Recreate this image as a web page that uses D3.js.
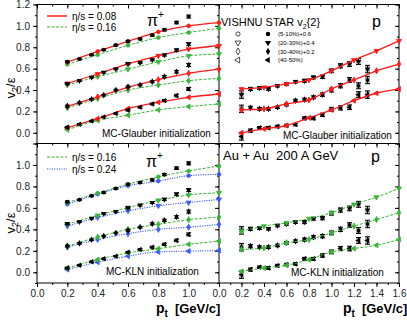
<!DOCTYPE html>
<html>
<head>
<meta charset="utf-8">
<script src="https://cdn.jsdelivr.net/npm/d3@7"></script>
<style>
body { margin: 0; background: #fff; }
text { font-family: Arial, "Liberation Sans", sans-serif; }
</style>
</head>
<body>
<svg id="chart" width="407" height="324"></svg>
<script>
// transverse momentum bins
const ptPi = [0.2, 0.28, 0.36, 0.44, 0.52, 0.6, 0.68, 0.76, 0.84, 0.92, 1.0];
const ptPr = [0.2, 0.28, 0.36, 0.44, 0.52, 0.6, 0.68, 0.76, 0.84, 0.92, 1.0, 1.08, 1.16, 1.24, 1.32];
const ptHydroPi = [0.2, 0.4, 0.6, 0.8, 1.0, 1.2];
const ptHydroPr = [0.2, 0.4, 0.6, 0.8, 1.0, 1.2, 1.4, 1.6];

const centralities = ["(5-10%)+0.6", "(20-30%)+0.4", "(30-40%)+0.2", "(40-50%)"];

// STAR pion v2{2}/eps, MC-Glauber eps (offsets included)
const starPiGlauber = [
  [0.665, 0.69, 0.73, 0.776, 0.82, 0.855, 0.878, 0.913, 0.963, 1.031, 1.087],
  [0.458, 0.487, 0.519, 0.565, 0.597, 0.645, 0.655, 0.683, 0.727, 0.773, 0.829],
  [0.25, 0.28, 0.314, 0.352, 0.4, 0.43, 0.447, 0.478, 0.525, 0.571, 0.634],
  [0.052, 0.079, 0.11, 0.148, 0.18, 0.212, 0.239, 0.27, 0.301, 0.348, 0.41]
];
// STAR pion, MC-KLN eps
const starPiKLN = [
  [0.656, 0.675, 0.712, 0.743, 0.78, 0.82, 0.837, 0.86, 0.91, 0.97, 1.015],
  [0.453, 0.47, 0.503, 0.547, 0.566, 0.6, 0.625, 0.65, 0.68, 0.728, 0.766],
  [0.244, 0.27, 0.303, 0.337, 0.366, 0.39, 0.42, 0.452, 0.484, 0.515, 0.565],
  [0.04, 0.066, 0.097, 0.125, 0.15, 0.187, 0.212, 0.234, 0.26, 0.297, 0.353]
];
const errPi = [0.008, 0.007, 0.007, 0.007, 0.007, 0.008, 0.008, 0.009, 0.01, 0.012, 0.014];

// STAR proton v2{2}/eps (20-30%, 30-40%, 40-50%)
const starPrGlauber = [
  [0.357, 0.41, 0.419, 0.41, 0.44, 0.457, 0.478, 0.487, 0.518, 0.525, 0.58, 0.627, 0.643, 0.667, 0.596],
  [0.224, 0.233, 0.224, 0.224, 0.239, 0.264, 0.301, 0.31, 0.332, 0.357, 0.4, 0.44, 0.494, 0.44, 0.494],
  [-0.034, 0.021, 0.047, 0.047, 0.059, 0.068, 0.077, 0.136, 0.136, 0.168, 0.22, 0.233, 0.239, 0.357, 0.357]
];
const starPrKLN = [
  [0.39, 0.405, 0.411, 0.405, 0.436, 0.45, 0.467, 0.467, 0.5, 0.505, 0.55, 0.58, 0.595, 0.633, 0.58],
  [0.234, 0.243, 0.234, 0.234, 0.25, 0.274, 0.29, 0.305, 0.327, 0.336, 0.367, 0.4, 0.44, 0.389, 0.45],
  [-0.022, 0.025, 0.047, 0.04, 0.062, 0.072, 0.078, 0.125, 0.125, 0.156, 0.19, 0.221, 0.221, 0.296, 0.296]
];
const errPr = [0.035, 0.015, 0.012, 0.012, 0.012, 0.012, 0.012, 0.014, 0.014, 0.016, 0.018, 0.02, 0.022, 0.028, 0.035];

// VISHNU hydro, pions
const hydroPiGl008 = [
  [0.66, 0.761, 0.855, 0.944, 1.0, 1.03],
  [0.462, 0.55, 0.645, 0.72, 0.783, 0.814],
  [0.248, 0.336, 0.425, 0.497, 0.556, 0.596],
  [0.047, 0.132, 0.226, 0.285, 0.332, 0.363]
];
const hydroPiGl016 = [
  [0.64, 0.73, 0.818, 0.891, 0.938, 0.978],
  [0.447, 0.525, 0.594, 0.664, 0.72, 0.736],
  [0.233, 0.32, 0.4, 0.447, 0.487, 0.509],
  [0.028, 0.116, 0.164, 0.214, 0.245, 0.27]
];
const hydroPiKLN016 = [
  [0.65, 0.737, 0.82, 0.89, 0.944, 0.99],
  [0.447, 0.53, 0.603, 0.67, 0.72, 0.741],
  [0.244, 0.328, 0.4, 0.447, 0.49, 0.514],
  [0.04, 0.118, 0.18, 0.22, 0.26, 0.29]
];
const hydroPiKLN024 = [
  [0.634, 0.728, 0.806, 0.85, 0.9, 0.913],
  [0.43, 0.51, 0.572, 0.62, 0.65, 0.679],
  [0.234, 0.306, 0.36, 0.4, 0.42, 0.446],
  [0.025, 0.094, 0.15, 0.19, 0.197, 0.203]
];
// VISHNU hydro, protons
const hydroPrGl008 = [
  [0.41, 0.425, 0.457, 0.494, 0.58, 0.68, 0.767, 0.86],
  [0.214, 0.224, 0.27, 0.307, 0.41, 0.494, 0.58, 0.643],
  [0.0, 0.037, 0.068, 0.14, 0.214, 0.301, 0.37, 0.41]
];
const hydroPrKLN016 = [
  [0.383, 0.43, 0.461, 0.5, 0.555, 0.632, 0.7, 0.782],
  [0.212, 0.227, 0.274, 0.305, 0.367, 0.43, 0.492, 0.555],
  [0.009, 0.04, 0.065, 0.118, 0.19, 0.221, 0.252, 0.305]
];

const xTicks = [0, 0.2, 0.4, 0.6, 0.8, 1.0, 1.2, 1.4, 1.6];
const yTicks = [0, 0.2, 0.4, 0.6, 0.8, 1.0, 1.2];

const RED = "#ff1a1a", GREEN = "#39b539", BLUE = "#3a5cff";

const svg = d3.select("#chart");
const L = 37, M = 219, R = 399, T = 4.5, MID = 143.5, B = 283;

const xPi = d3.scaleLinear().domain([0, 1.2]).range([L, M]);
const xPr = d3.scaleLinear().domain([0, 1.6]).range([M, R]);
const yTop = d3.scaleLinear().domain([-0.1, 1.2]).range([MID, T]);
const yBot = d3.scaleLinear().domain([-0.1, 1.2]).range([B, MID]);

const shapes = [
  {type: d3.symbolCircle, rot: 0},
  {type: d3.symbolTriangle, rot: 180},
  {type: d3.symbolDiamond, rot: 0},
  {type: d3.symbolTriangle, rot: -90}
];

// ---- axes ----
function yAxes(x, y, labels) {
  const minor = d3.range(-0.1, 1.21, 0.1).map(v => +v.toFixed(1));
  svg.append("g").attr("transform", `translate(${x},0)`)
    .call(d3.axisLeft(y).tickValues(minor).tickSize(2).tickFormat(""));
  svg.append("g").attr("transform", `translate(${x},0)`)
    .call(d3.axisLeft(y).tickValues(yTicks).tickSize(4)
      .tickFormat(labels ? (d => d === 1.2 && labels === "noTop" ? "" : d3.format(".1f")(d)) : ""));
}
function xAxes(x, yPos, labels, drop) {
  const dom = x.domain();
  const minor = d3.range(dom[0], dom[1] + 0.01, 0.1).map(v => +v.toFixed(1));
  const major = xTicks.filter(v => v <= dom[1] + 1e-6);
  svg.append("g").attr("transform", `translate(0,${yPos})`)
    .call(d3.axisBottom(x).tickValues(minor).tickSize(2).tickFormat(""));
  svg.append("g").attr("transform", `translate(0,${yPos})`)
    .call(d3.axisBottom(x).tickValues(major).tickSize(4)
      .tickFormat(labels ? (d => drop && d === dom[1] ? "" : d3.format(".1f")(d)) : ""));
}

yAxes(L, yTop, "all");
yAxes(L, yBot, "noTop");
yAxes(M, yTop, false);
yAxes(M, yBot, false);
yAxes(R, yTop, false);
yAxes(R, yBot, false);
xAxes(xPi, T, false); xAxes(xPr, T, false);
xAxes(xPi, MID, false); xAxes(xPr, MID, false);
xAxes(xPi, B, true, true); xAxes(xPr, B, true, false);

svg.selectAll(".domain").remove();
svg.selectAll(".tick line").attr("stroke", "#000");
svg.selectAll(".tick text").attr("font-size", 10).attr("fill", "#222")
  .attr("font-family", "Arial, 'Liberation Sans', sans-serif");

// frame
svg.append("rect").attr("x", L).attr("y", T).attr("width", R - L).attr("height", B - T)
  .attr("fill", "none").attr("stroke", "#000");
svg.append("line").attr("x1", M).attr("x2", M).attr("y1", T).attr("y2", B).attr("stroke", "#000");
svg.append("line").attr("x1", L).attr("x2", R).attr("y1", MID).attr("y2", MID).attr("stroke", "#000");

// ---- marks ----
const plot = svg.append("g");

function hydro(x, y, pts, series, color, dash, width, shapeOffset) {
  const line = d3.line().x((d, i) => x(pts[i])).y(d => y(d)).curve(d3.curveMonotoneX);
  series.forEach((vals, s) => {
    plot.append("path").attr("d", line(vals)).attr("fill", "none")
      .attr("stroke", color).attr("stroke-width", width).attr("stroke-dasharray", dash);
    const sh = shapes[s + shapeOffset];
    plot.selectAll(null).data(vals).enter().append("path")
      .attr("d", d3.symbol().type(sh.type).size(11))
      .attr("transform", (d, i) => `translate(${x(pts[i])},${y(d)}) rotate(${sh.rot})`)
      .attr("fill", color).attr("stroke", color).attr("stroke-width", 0.8);
  });
}

function star(x, y, pts, series, err, shapeOffset, sys) {
  series.forEach((vals, s) => {
    const g = plot.append("g");
    vals.forEach((v, i) => {
      const px = x(pts[i]);
      if (sys) {
        g.append("rect").attr("x", px - 2.5).attr("y", y(v + err[i]))
          .attr("width", 5).attr("height", y(v - err[i]) - y(v + err[i]))
          .attr("fill", "#b8b8b8");
      }
      g.append("line").attr("x1", px).attr("x2", px)
        .attr("y1", y(v - err[i])).attr("y2", y(v + err[i])).attr("stroke", "#000");
      [v - err[i], v + err[i]].forEach(e => g.append("line")
        .attr("x1", px - 2.5).attr("x2", px + 2.5).attr("y1", y(e)).attr("y2", y(e))
        .attr("stroke", "#000"));
    });
    const sh = shapes[s + shapeOffset];
    g.selectAll(null).data(vals).enter().append("path")
      .attr("d", d3.symbol().type(sh.type).size(13))
      .attr("transform", (d, i) => `translate(${x(pts[i])},${y(d)}) rotate(${sh.rot})`)
      .attr("fill", "#000");
  });
}

// top-left: pions, Glauber
hydro(xPi, yTop, ptHydroPi, hydroPiGl016, GREEN, "3,1.5", 1, 0);
hydro(xPi, yTop, ptHydroPi, hydroPiGl008, RED, null, 1.3, 0);
star(xPi, yTop, ptPi, starPiGlauber, errPi, 0, false);
// bottom-left: pions, KLN
hydro(xPi, yBot, ptHydroPi, hydroPiKLN024, BLUE, "1.2,1.2", 1.1, 0);
hydro(xPi, yBot, ptHydroPi, hydroPiKLN016, GREEN, "3,1.5", 1, 0);
star(xPi, yBot, ptPi, starPiKLN, errPi, 0, false);
// top-right: protons, Glauber
star(xPr, yTop, ptPr, starPrGlauber, errPr, 1, true);
hydro(xPr, yTop, ptHydroPr, hydroPrGl008, RED, null, 1.3, 1);
// bottom-right: protons, KLN
star(xPr, yBot, ptPr, starPrKLN, errPr, 1, true);
hydro(xPr, yBot, ptHydroPr, hydroPrKLN016, GREEN, "3,1.5", 1, 1);

// ---- legends and labels ----
function legendLine(y, color, dash, w, label) {
  svg.append("line").attr("x1", 47).attr("x2", 67).attr("y1", y).attr("y2", y)
    .attr("stroke", color).attr("stroke-width", w).attr("stroke-dasharray", dash);
  svg.append("text").attr("x", 72).attr("y", y + 3.5).attr("font-size", 10).text(label);
}
legendLine(16, RED, null, 1.5, "η/s = 0.08");
legendLine(27, GREEN, "3,1.5", 1, "η/s = 0.16");
legendLine(157, GREEN, "3,1.5", 1, "η/s = 0.16");
legendLine(169, BLUE, "1.2,1.2", 1.1, "η/s = 0.24");

function particle(x, y, main, sup) {
  const t = svg.append("text").attr("x", x).attr("y", y).attr("font-size", 16).text(main);
  if (sup) t.append("tspan").attr("dy", -8).attr("font-size", 10).text(sup);
}
particle(147, 26, "π", "+");
particle(146, 167, "π", "+");
particle(372, 27, "p");
particle(371, 162, "p");

svg.append("text").attr("x", 102).attr("y", 137).attr("font-size", 10).text("MC-Glauber initialization");
svg.append("text").attr("x", 283).attr("y", 139).attr("font-size", 10).text("MC-Glauber initialization");
svg.append("text").attr("x", 106).attr("y", 275).attr("font-size", 10).text("MC-KLN initialization");
svg.append("text").attr("x", 291).attr("y", 276).attr("font-size", 10).text("MC-KLN initialization");
svg.append("text").attr("x", 223).attr("y", 160).attr("font-size", 13).text("Au + Au  200 A GeV")
  .attr("xml:space", "preserve").style("white-space", "pre");

const head = svg.append("text").attr("x", 221).attr("y", 26).attr("font-size", 11).text("VISHNU STAR v");
head.append("tspan").attr("dy", 3).attr("font-size", 7).text("2");
head.append("tspan").attr("dy", -3).text("{2}");

centralities.forEach((c, i) => {
  const y = 34 + i * 8.7;
  const sh = shapes[i];
  svg.append("path").attr("d", d3.symbol().type(sh.type).size(14))
    .attr("transform", `translate(238,${y}) rotate(${sh.rot})`)
    .attr("fill", "none").attr("stroke", "#000").attr("stroke-width", 0.7);
  svg.append("path").attr("d", d3.symbol().type(sh.type).size(16))
    .attr("transform", `translate(268,${y}) rotate(${sh.rot})`).attr("fill", "#000");
  svg.append("text").attr("x", 278).attr("y", y + 2.2).attr("font-size", 6).text(c);
});

// axis titles
function yTitle(cy) {
  const t = svg.append("text").attr("transform", `translate(15,${cy}) rotate(-90)`)
    .attr("text-anchor", "middle").attr("font-size", 13).text("v");
  t.append("tspan").attr("dy", 3).attr("font-size", 9).text("2");
  t.append("tspan").attr("dy", -3).text("/ε");
}
yTitle(88);
yTitle(223);

function xTitle(x) {
  const t = svg.append("text").attr("x", x).attr("y", 313)
    .attr("font-family", "'Liberation Serif', 'Times New Roman', serif")
    .attr("font-weight", "bold").attr("font-size", 14).text("p");
  t.append("tspan").attr("dy", 4).attr("font-size", 10).text("t");
  t.append("tspan").attr("dy", -4).attr("dx", 7).attr("font-size", 13).text("[GeV/c]");
}
xTitle(156);
xTitle(343);
</script>
</body>
</html>
